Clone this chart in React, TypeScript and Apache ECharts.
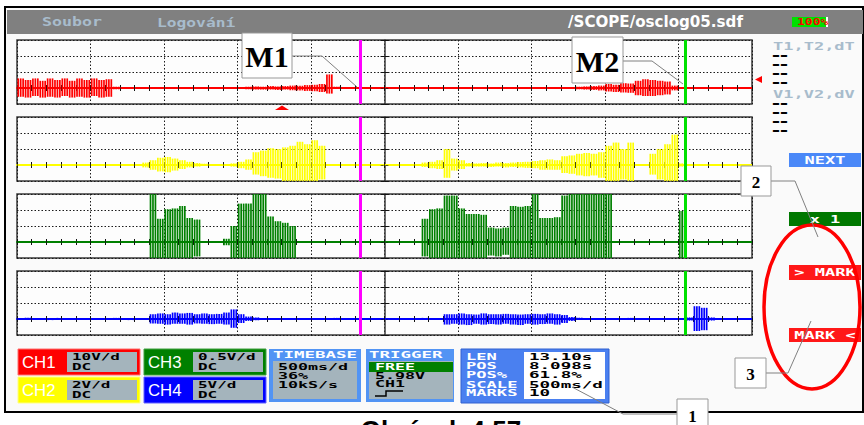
import React, { useEffect, useRef } from "react";
import * as echarts from "echarts";

// ---- time / amplitude frame (divisions) ----
const xMin = -5;
const xMax = 5;
const yMin = -1;
const yMax = 3;
const sampleStep = 0.1;

// ---- marker positions (divisions from screen centre) ----
const markerM1 = -0.33;
const markerM2 = 4.09;

// ---- channel envelopes (max / min per 0.1 division, in divisions) ----
const ch1Hi = [
  0.6, 0.5, 0.6, 0.45, 0.6, 0.5, 0.6, 0.45, 0.6, 0.5,
  0.6, 0.5, 0.55, 0.08, 0.04, 0.03, 0.04, 0.03, 0.04, 0.03,
  0.04, 0.03, 0.04, 0.03, 0.04, 0.03, 0.04, 0.03, 0.04, 0.05,
  0.04, 0.08, 0.1, 0.08, 0.12, 0.1, 0.12, 0.15, 0.14, 0.18,
  0.2, 0.25, 0.85, 0.08, 0.04, 0.03, 0.04, 0.03, 0.04, 0.03,
  0.04, 0.03, 0.04, 0.03, 0.04, 0.03, 0.04, 0.03, 0.04, 0.03,
  0.04, 0.03, 0.04, 0.03, 0.04, 0.03, 0.04, 0.03, 0.04, 0.03,
  0.04, 0.03, 0.04, 0.05, 0.06, 0.05, 0.08, 0.1, 0.12, 0.15,
  0.25, 0.2, 0.3, 0.28, 0.45, 0.55, 0.5, 0.45, 0.4, 0.15,
  0.05, 0.04, 0.03, 0.04, 0.03, 0.04, 0.03, 0.04, 0.03, 0.04,
];
const ch1Lo = [
  -0.55, -0.6, -0.5, -0.6, -0.55, -0.6, -0.5, -0.6, -0.55, -0.6,
  -0.5, -0.6, -0.55, -0.08, -0.03, -0.04, -0.03, -0.04, -0.03, -0.04,
  -0.03, -0.04, -0.03, -0.04, -0.03, -0.04, -0.03, -0.04, -0.03, -0.04,
  -0.05, -0.08, -0.1, -0.1, -0.1, -0.12, -0.1, -0.14, -0.15, -0.18,
  -0.2, -0.25, -0.35, -0.06, -0.03, -0.04, -0.03, -0.04, -0.03, -0.04,
  -0.03, -0.04, -0.03, -0.04, -0.03, -0.04, -0.03, -0.04, -0.03, -0.04,
  -0.03, -0.04, -0.03, -0.04, -0.03, -0.04, -0.03, -0.04, -0.03, -0.04,
  -0.03, -0.04, -0.03, -0.05, -0.05, -0.06, -0.08, -0.1, -0.12, -0.15,
  -0.22, -0.25, -0.28, -0.3, -0.45, -0.5, -0.5, -0.45, -0.4, -0.15,
  -0.04, -0.03, -0.04, -0.03, -0.04, -0.03, -0.04, -0.03, -0.04, -0.03,
];
const ch2Hi = [
  0.04, 0.03, 0.04, 0.03, 0.04, 0.03, 0.04, 0.03, 0.04, 0.03,
  0.04, 0.03, 0.04, 0.03, 0.04, 0.03, 0.05, 0.15, 0.3, 0.45,
  0.5, 0.4, 0.3, 0.2, 0.12, 0.08, 0.05, 0.04, 0.03, 0.1,
  0.2, 0.35, 0.8, 0.9, 1.05, 1.0, 1.1, 1.2, 1.45, 1.3,
  1.55, 1.2, 0.05, 0.03, 0.04, 0.03, 0.04, 0.03, 0.04, 0.03,
  0.04, 0.03, 0.04, 0.03, 0.04, 0.15, 0.2, 0.3, 1.0, 0.4,
  0.3, 0.12, 0.1, 0.12, 0.1, 0.15, 0.12, 0.15, 0.18, 0.2,
  0.25, 0.3, 0.35, 0.3, 0.55, 0.6, 0.7, 0.75, 0.7, 0.8,
  1.2, 1.4, 1.0, 1.4, 0.05, 0.04, 0.7, 1.0, 1.3, 1.9,
  0.1, 0.04, 0.03, 0.04, 0.03, 0.04, 0.03, 0.04, 0.03, 0.04,
];
const ch2Lo = [
  -0.03, -0.04, -0.03, -0.04, -0.03, -0.04, -0.03, -0.04, -0.03, -0.04,
  -0.03, -0.04, -0.03, -0.04, -0.03, -0.04, -0.05, -0.15, -0.3, -0.4,
  -0.45, -0.35, -0.25, -0.15, -0.1, -0.06, -0.04, -0.03, -0.04, -0.1,
  -0.2, -0.3, -0.6, -0.7, -0.8, -0.85, -1, -1, -1, -1,
  -1, -0.9, -0.05, -0.04, -0.03, -0.04, -0.03, -0.04, -0.03, -0.04,
  -0.03, -0.04, -0.03, -0.04, -0.03, -0.12, -0.2, -0.25, -0.8, -0.35,
  -0.25, -0.1, -0.1, -0.1, -0.12, -0.1, -0.15, -0.12, -0.15, -0.18,
  -0.2, -0.3, -0.3, -0.3, -0.5, -0.55, -0.65, -0.7, -0.65, -0.8,
  -1, -1, -0.9, -1, -0.05, -0.04, -0.6, -0.9, -1, -1,
  -0.1, -0.03, -0.04, -0.03, -0.04, -0.03, -0.04, -0.03, -0.04, -0.03,
];
const ch3Hi = [
  0.04, 0.05, 0.03, 0.05, 0.04, 0.06, 0.03, 0.05, 0.04, 0.05,
  0.04, 0.05, 0.03, 0.05, 0.04, 0.05, 0.03, 0.06, 3.0, 1.45,
  2.05, 2.1, 2.25, 1.5, 1.4, 0.06, 0.04, 0.05, 0.2, 1.0,
  2.4, 2.4, 3.0, 3.0, 1.6, 1.3, 1.2, 1.0, 0.06, 0.04,
  0.05, 0.04, 0.06, 0.04, 0.05, 0.03, 0.05, 0.04, 0.06, 0.04,
  0.05, 0.04, 0.05, 0.04, 0.06, 1.45, 2.05, 2.1, 2.9, 2.9,
  2.1, 1.75, 1.75, 1.7, 0.9, 0.85, 0.9, 2.25, 2.2, 2.25,
  3.0, 1.5, 1.5, 1.55, 2.9, 3.0, 3.0, 3.0, 3.0, 3.0,
  3.0, 0.06, 0.04, 0.05, 0.04, 0.05, 0.04, 0.05, 0.04, 0.06,
  1.94, 0.05, 0.04, 0.06, 0.04, 0.05, 0.04, 0.05, 0.04, 0.06,
];
const ch3Lo = [
  -0.04, -0.03, -0.05, -0.04, -0.05, -0.03, -0.05, -0.04, -0.05, -0.04,
  -0.05, -0.03, -0.05, -0.04, -0.05, -0.03, -0.05, -0.05, -1, -1,
  -1, -1, -1, -1, -0.9, -0.05, -0.04, -0.05, -0.2, -1,
  -1, -1, -1, -1, -1, -1, -1, -1, -0.05, -0.04,
  -0.05, -0.04, -0.05, -0.03, -0.05, -0.04, -0.05, -0.04, -0.05, -0.03,
  -0.05, -0.04, -0.05, -0.04, -0.05, -0.9, -1, -1, -1, -1,
  -1, -1, -1, -1, -0.85, -0.9, -0.8, -1, -1, -1,
  -1, -1, -1, -1, -1, -1, -1, -1, -1, -1,
  -1, -0.05, -0.04, -0.05, -0.04, -0.05, -0.04, -0.05, -0.04, -0.05,
  -1, -0.05, -0.04, -0.05, -0.04, -0.05, -0.04, -0.05, -0.04, -0.05,
];
const ch4Hi = [
  0.05, 0.08, 0.04, 0.06, 0.05, 0.07, 0.04, 0.06, 0.05, 0.04,
  0.06, 0.05, 0.04, 0.07, 0.05, 0.04, 0.06, 0.05, 0.3, 0.35,
  0.3, 0.4, 0.35, 0.38, 0.3, 0.35, 0.3, 0.32, 0.4, 0.6,
  0.3, 0.15, 0.1, 0.06, 0.05, 0.04, 0.06, 0.05, 0.04, 0.05,
  0.06, 0.04, 0.05, 0.07, 0.04, 0.05, 0.06, 0.04, 0.05, 0.06,
  0.04, 0.05, 0.06, 0.04, 0.05, 0.07, 0.05, 0.06, 0.3, 0.3,
  0.35, 0.3, 0.28, 0.35, 0.3, 0.3, 0.32, 0.3, 0.28, 0.3,
  0.32, 0.3, 0.35, 0.3, 0.25, 0.12, 0.08, 0.05, 0.04, 0.05,
  0.06, 0.04, 0.05, 0.07, 0.04, 0.05, 0.06, 0.04, 0.05, 0.06,
  0.05, 0.1, 0.8, 0.7, 0.1, 0.05, 0.04, 0.05, 0.04, 0.05,
];
const ch4Lo = [
  -0.04, -0.06, -0.05, -0.04, -0.07, -0.05, -0.06, -0.04, -0.05, -0.06,
  -0.04, -0.05, -0.06, -0.04, -0.05, -0.07, -0.04, -0.05, -0.28, -0.3,
  -0.35, -0.3, -0.3, -0.35, -0.28, -0.3, -0.32, -0.3, -0.35, -0.55,
  -0.25, -0.12, -0.08, -0.05, -0.04, -0.06, -0.05, -0.04, -0.06, -0.05,
  -0.04, -0.06, -0.05, -0.04, -0.06, -0.05, -0.04, -0.06, -0.05, -0.04,
  -0.06, -0.05, -0.04, -0.06, -0.05, -0.04, -0.06, -0.05, -0.35, -0.3,
  -0.35, -0.38, -0.3, -0.35, -0.32, -0.35, -0.3, -0.35, -0.38, -0.3,
  -0.35, -0.32, -0.3, -0.35, -0.25, -0.12, -0.06, -0.05, -0.04, -0.06,
  -0.05, -0.04, -0.06, -0.05, -0.04, -0.06, -0.05, -0.04, -0.06, -0.05,
  -0.04, -0.1, -0.75, -0.7, -0.1, -0.05, -0.04, -0.06, -0.05, -0.04,
];

const channelColors = ["#ff0000", "#ffff00", "#008000", "#0000ff"];

// ---- UI texts ----
const menuItems = ["Soubor", "Logování"];
const filePath = "/SCOPE/osclog05.sdf";
const battery = "100%";
const cursorHeaders = ["T1,T2,dT", "V1,V2,dV"];
const buttonLabels = ["NEXT", "x 1", "> MARK", "MARK <"];
const channelNames = ["CH1", "CH2", "CH3", "CH4"];
const channelScales = ["10V/d", "2V/d", "0.5V/d", "5V/d"];
const channelCoupling = ["DC", "DC", "DC", "DC"];
const timebaseLines = ["500ms/d", "36%", "10kS/s"];
const triggerLines = ["FREE", "5.98V", "CH1"];
const infoLabels = ["LEN", "POS", "POS%", "SCALE", "MARKS"];
const infoValues = ["13.10s", "8.098s", "61.8%", "500ms/d", "10"];
const calloutLabels = ["M1", "M2", "2", "3", "1"];
const caption = "Obrázek 4.57";

function envelopeData(hi: number[], lo: number[]) {
  return hi.map((h, i) => [xMin + i * sampleStep, h, lo[i]]);
}

function makeRenderItem(color: string) {
  return (params: any, api: any) => {
    const t = api.value(0);
    const top = api.coord([t, api.value(1)]);
    const bot = api.coord([t, api.value(2)]);
    const w = api.size([sampleStep, 0])[0];
    const strokes = 3;
    const children: any[] = [];
    for (let k = 0; k < strokes; k++) {
      const x = top[0] + (w * (k + 0.5)) / strokes;
      children.push({
        type: "line",
        shape: { x1: x, y1: top[1], x2: x, y2: bot[1] },
        style: { stroke: color, lineWidth: 1.7 },
      });
    }
    return { type: "group", children };
  };
}

function buildOption() {
  const highs = [ch1Hi, ch2Hi, ch3Hi, ch4Hi];
  const lows = [ch1Lo, ch2Lo, ch3Lo, ch4Lo];
  const gridTops = [40, 117, 194, 271];
  const grid: any[] = [];
  const xAxis: any[] = [];
  const yAxis: any[] = [];
  const series: any[] = [];
  const dotted = { color: "#1a1a1a", type: [1.5, 2], width: 1 };

  highs.forEach((hi, g) => {
    const color = channelColors[g];
    grid.push({
      left: 17, top: gridTops[g], width: 735, height: 64,
      show: true, borderColor: "#3a3a3a", borderWidth: 1.5, backgroundColor: "#fdfdfd",
    });
    const xb = { type: "value", gridIndex: g, min: xMin, max: xMax, interval: 1, axisLabel: { show: false } };
    xAxis.push({
      ...xb, position: "bottom",
      axisLine: { show: true, onZero: true, onZeroAxisIndex: 2 * g, lineStyle: { color, width: 2 } },
      axisTick: { show: true, inside: false, length: 3, lineStyle: { color: "#111" } },
      minorTick: { show: true, splitNumber: 5, length: 3, lineStyle: { color: "#111" } },
      splitLine: { show: true, lineStyle: dotted },
    });
    xAxis.push({
      ...xb, position: "bottom",
      axisLine: { show: true, onZero: true, onZeroAxisIndex: 2 * g, lineStyle: { color, width: 2, opacity: 0 } },
      axisTick: { show: true, inside: true, length: 3, lineStyle: { color: "#111" } },
      minorTick: { show: true, splitNumber: 5, length: 3, lineStyle: { color: "#111" } },
      splitLine: { show: false },
    });
    const yb = { type: "value", gridIndex: g, min: yMin, max: yMax, interval: 1, axisLabel: { show: false }, position: "left" };
    yAxis.push({
      ...yb,
      axisLine: { show: true, onZero: true, onZeroAxisIndex: 2 * g, lineStyle: { color: "#3a3a3a", width: 1.5 } },
      axisTick: { show: true, inside: false, length: 4, lineStyle: { color: "#111" } },
      splitLine: { show: true, lineStyle: dotted },
    });
    yAxis.push({
      ...yb,
      axisLine: { show: true, onZero: true, onZeroAxisIndex: 2 * g, lineStyle: { opacity: 0 } },
      axisTick: { show: true, inside: true, length: 4, lineStyle: { color: "#111" } },
      splitLine: { show: false },
    });
    series.push({
      type: "custom",
      xAxisIndex: 2 * g,
      yAxisIndex: 2 * g,
      data: envelopeData(hi, lows[g]),
      encode: { x: 0, y: [1, 2] },
      renderItem: makeRenderItem(color),
      silent: true,
      z: 3,
    });
    series.push({
      type: "line",
      xAxisIndex: 2 * g,
      yAxisIndex: 2 * g,
      data: [],
      silent: true,
      z: 4,
      markLine: {
        silent: true,
        symbol: ["none", "none"],
        label: { show: false },
        data: [
          { xAxis: markerM1, lineStyle: { color: "#ff00ff", width: 3, type: "solid" } },
          { xAxis: markerM2, lineStyle: { color: "#00e000", width: 3, type: "solid" } },
        ],
      },
    });
  });

  // ---------- graphic UI ----------
  const gr: any[] = [];
  const mono = (text: string, x: number, y: number, o: any = {}) => {
    const align = o.align ?? "left";
    gr.push({
      type: "text", x, y, scaleX: o.sx ?? 1, z: o.z ?? 20, silent: true,
      style: {
        text, fill: o.fill ?? "#000",
        font: o.font ?? `bold ${o.size ?? 9}px "DejaVu Sans Mono"`,
        textAlign: align, align, textVerticalAlign: "middle", verticalAlign: "middle",
      },
    });
  };
  const rect = (x: number, y: number, w: number, h: number, fill: string, o: any = {}) => {
    gr.push({
      type: "rect", z: o.z ?? 10, silent: true,
      shape: { x, y, width: w, height: h },
      style: { fill, stroke: o.stroke ?? null, lineWidth: o.lw ?? 1 },
    });
  };
  const poly = (points: number[][], stroke: string, lw: number, z = 20) => {
    gr.push({ type: "polyline", z, silent: true, shape: { points }, style: { stroke, lineWidth: lw, fill: null } });
  };

  // frame + top bar
  rect(5, 7, 858, 405, "#fafafa", { stroke: "#000", lw: 2, z: -5 });
  rect(7, 10, 856, 24, "#808080", { z: -4 });
  mono(menuItems[0], 42, 22, { fill: "#a8bccc", size: 13, sx: 1.28 });
  mono(menuItems[1], 157, 22, { fill: "#a8bccc", size: 13, sx: 1.25 });
  mono(filePath, 568, 22, { fill: "#ffffff", font: 'bold 15px "DejaVu Sans Condensed"', sx: 1.12 });
  rect(792, 17, 34, 10, "#00e000");
  rect(826, 17, 2, 10, "#ffffff");
  mono(battery, 797, 22, { fill: "#ff0000", size: 9, sx: 1.45 });

  // right cursor panel
  mono(cursorHeaders[0], 773, 46, { fill: "#a8bccc", size: 10, sx: 1.7 });
  mono(cursorHeaders[1], 773, 94, { fill: "#a8bccc", size: 10, sx: 1.7 });
  [55, 64, 73, 82, 103, 112, 121, 130].forEach((y) =>
    mono("--", 772, y, { font: 'bold 16px "Liberation Sans"', sx: 1.5 })
  );
  gr.push({ type: "polygon", z: 20, silent: true, shape: { points: [[755, 79.5], [762, 76], [762, 83]] }, style: { fill: "#ff0000" } });
  gr.push({ type: "polygon", z: 20, silent: true, shape: { points: [[275, 110], [289, 110], [282, 105.5]] }, style: { fill: "#ff0000" } });

  // buttons
  const btnY = [153, 212, 265, 328];
  const btnH = [14, 14, 15, 14];
  const btnFill = ["#4a88f8", "#007800", "#ff1818", "#ff1818"];
  buttonLabels.forEach((lab, i) => {
    rect(789, btnY[i], 72, btnH[i], btnFill[i]);
    mono(lab, 825, btnY[i] + btnH[i] / 2, { fill: "#ffffff", size: 10, sx: 1.7, align: "center" });
  });

  // channel boxes
  const chBoxX = [18, 18, 144, 144];
  const chBoxY = [349, 377, 349, 377];
  const chBorder = ["#ff7070", "#ffff80", "#40a040", "#6060ff"];
  channelNames.forEach((name, i) => {
    const x = chBoxX[i];
    const y = chBoxY[i];
    rect(x, y, 122, 26, channelColors[i], { stroke: chBorder[i] });
    mono(name, x + 4, y + 13, { fill: "#ffffff", font: '16px "Liberation Sans"', sx: 1.05 });
    rect(x + 49, y + 3, 70, 20, "#a4b4bc");
    mono(channelScales[i], x + 54, y + 8, { size: 9, sx: 1.77 });
    mono(channelCoupling[i], x + 54, y + 18, { size: 9, sx: 1.77 });
  });

  // timebase
  rect(269, 349, 92, 53, "#5294f4");
  mono("TIMEBASE", 273, 355, { fill: "#ffffff", size: 9, sx: 1.94 });
  rect(273, 361, 84, 38, "#a4b4bc");
  timebaseLines.forEach((t, i) => mono(t, 278, 367 + i * 9, { size: 9, sx: 1.85 }));

  // trigger
  rect(366, 349, 88, 53, "#5294f4");
  mono("TRIGGER", 369, 355, { fill: "#ffffff", size: 9, sx: 1.94 });
  rect(369, 361, 84, 38, "#a4b4bc");
  rect(369, 362, 84, 10, "#008000");
  triggerLines.forEach((t, i) => mono(t, 375, 367 + i * 8.5, { size: 9, sx: 1.85, fill: i === 0 ? "#ffffff" : "#000" }));
  poly([[375, 396], [386, 396], [386, 391], [403, 391]], "#000", 1.5);

  // record info
  rect(461, 349, 148, 54, "#4a80f0", { stroke: "#3060d0" });
  rect(524, 352, 81, 47, "#ffffff");
  const infoY = [357, 366, 375, 385, 393];
  infoLabels.forEach((t, i) => mono(t, 466, infoY[i], { fill: "#ffffff", size: 9, sx: 1.9 }));
  infoValues.forEach((t, i) => mono(t, 529, infoY[i], { size: 9, sx: 1.95 }));

  // caption (cut by the page edge, as in the source)
  mono(caption, 441, 430, { font: 'bold 26px "Liberation Sans"', align: "center", z: 5 });

  // red ellipse
  gr.push({ type: "ellipse", z: 95, silent: true, shape: { cx: 812, cy: 307, rx: 48, ry: 82 }, style: { fill: null, stroke: "#ff0000", lineWidth: 3.5 } });

  // callouts
  const cBox = [[242, 33, 50, 45], [572, 37, 51, 46], [741, 166, 30, 30], [735, 358, 31, 30], [677, 399, 31, 32]];
  const cSize = [30, 30, 17, 17, 17];
  const cLines = [
    [[292, 56], [322, 56], [357, 87]],
    [[623, 61], [652, 61], [683, 84]],
    [[771, 181], [795, 181], [818, 237]],
    [[766, 373], [788, 373], [811, 321]],
    [[677, 414], [623, 414], [572, 387]],
  ];
  calloutLabels.forEach((lab, i) => {
    const [x, y, w, h] = cBox[i];
    poly(cLines[i], "#808080", 1, 99);
    rect(x, y, w, h, "#ffffff", { stroke: "#999999", z: 100 });
    const cy = i === 4 ? 416 : y + h / 2 + 1;
    mono(lab, x + w / 2, cy, { font: `bold ${cSize[i]}px "Liberation Serif"`, align: "center", z: 101 });
  });

  return {
    animation: false,
    backgroundColor: "#ffffff",
    grid, xAxis, yAxis, series,
    graphic: { elements: gr },
  };
}

export default function App() {
  const ref = useRef<HTMLDivElement>(null);
  useEffect(() => {
    if (!ref.current) return;
    const chart = echarts.init(ref.current, undefined, { renderer: "svg" });
    chart.setOption(buildOption() as any);
    return () => chart.dispose();
  }, []);
  return <div ref={ref} style={{ position: "absolute", left: 0, top: 0, width: 864, height: 425 }} />;
}
